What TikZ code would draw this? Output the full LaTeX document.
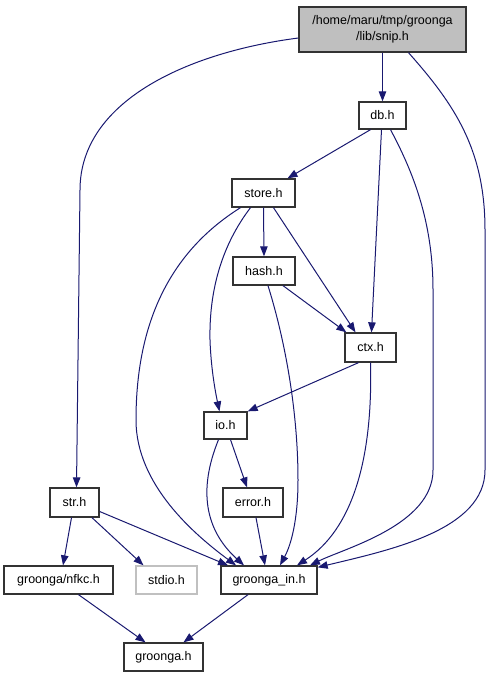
\documentclass[tikz,border=0pt]{standalone}
\usepackage{fontspec}
\setmainfont{Liberation Sans}
\usetikzlibrary{arrows.meta}
\definecolor{edgec}{HTML}{191970}
\definecolor{boxc}{HTML}{333333}
\definecolor{graybox}{HTML}{BFBFBF}
\definecolor{lightb}{HTML}{C0C0C0}
\tikzset{
  fnode/.style={draw=boxc, line width=1.3pt, fill=white, inner sep=0pt, font=\fontsize{12.5}{16}\selectfont, align=center},
  edge/.style={draw=edgec, line width=1pt, -{Triangle[length=10pt,width=7.5pt]}},
}
\begin{document}
\begin{tikzpicture}[x=1pt,y=-1pt]
\useasboundingbox (0,0) rectangle (489,677);
\node[fnode, fill=graybox, minimum width=167pt, minimum height=45pt] (snip) at (382.5,29.5) {/home/maru/tmp/groonga\\/lib/snip.h};
\node[fnode, minimum width=47pt, minimum height=27pt] (db) at (382.5,115.5) {db.h};
\node[fnode, minimum width=63pt, minimum height=28pt] (store) at (263.5,193) {store.h};
\node[fnode, minimum width=62pt, minimum height=28pt] (hash) at (264,271) {hash.h};
\node[fnode, minimum width=51pt, minimum height=29pt] (ctx) at (370.5,347.5) {ctx.h};
\node[fnode, minimum width=43pt, minimum height=27pt] (io) at (225.5,425.5) {io.h};
\node[fnode, minimum width=60pt, minimum height=29pt] (error) at (253,502.5) {error.h};
\node[fnode, minimum width=49pt, minimum height=29pt] (str) at (74.5,502.5) {str.h};
\node[fnode, minimum width=109pt, minimum height=28pt] (nfkc) at (58.5,580) {groonga/nfkc.h};
\node[fnode, draw=lightb, minimum width=61pt, minimum height=28pt] (stdio) at (166.5,580) {stdio.h};
\node[fnode, minimum width=96pt, minimum height=28pt] (gin) at (269,580) {groonga\_in.h};
\node[fnode, minimum width=79pt, minimum height=28pt] (groonga) at (163.5,657) {groonga.h};

% snip
\draw[edge] (snip.south) -- (db.north);
\draw[edge] ([yshift=-8.5]snip.west) .. controls (190,52) and (80,100) .. (80,190) -- ([xshift=2]str.north);
\draw[edge] ([xshift=26]snip.south) .. controls (455,105) and (485,150) .. (485,230) -- (485,470) .. controls (485,530) and (390,550) .. ([yshift=-2]gin.north east);
% db
\draw[edge] ([xshift=-12]db.south) -- ([xshift=24]store.north);
\draw[edge] ([xshift=-1]db.south) -- ([xshift=1]ctx.north);
\draw[edge] ([xshift=8]db.south) .. controls (412,170) and (433,220) .. (433,290) -- (433,470) .. controls (433,525) and (345,548) .. ([xshift=41]gin.north);
% store
\draw[edge] (store.south) -- (hash.north);
\draw[edge] ([xshift=10]store.south) -- ([xshift=-15]ctx.north);
\draw[edge] ([xshift=-13]store.south) .. controls (222,245) and (209,290) .. (210,340) .. controls (211,370) and (216,395) .. ([xshift=-6]io.north);
\draw[edge] ([xshift=-23]store.south) .. controls (165,255) and (136,330) .. (136,420) .. controls (136,485) and (195,535) .. ([xshift=-33]gin.north);
% hash
\draw[edge] ([xshift=19]hash.south) -- ([xshift=2]ctx.north west);
\draw[edge] ([xshift=4]hash.south) .. controls (288,350) and (298,420) .. (298,480) .. controls (298,520) and (291,545) .. ([xshift=11]gin.north);
% ctx
\draw[edge] ([xshift=-12]ctx.south) -- (io.north east);
\draw[edge] (ctx.south) .. controls (373,460) and (352,530) .. ([xshift=28]gin.north);
% io
\draw[edge] ([xshift=5]io.south) -- ([xshift=-6]error.north);
\draw[edge] ([xshift=-7]io.south) .. controls (198,490) and (205,530) .. ([xshift=-25]gin.north);
% error
\draw[edge] ([xshift=3]error.south) -- ([xshift=-4]gin.north);
% str
\draw[edge] ([xshift=-3]str.south) -- ([xshift=4.5]nfkc.north);
\draw[edge] ([xshift=17.5]str.south) -- ([xshift=-23]stdio.north);
\draw[edge] ([yshift=-9]str.east) -- ([xshift=-41]gin.north);
% bottom
\draw[edge] ([xshift=20]nfkc.south) -- ([xshift=-18]groonga.north);
\draw[edge] ([xshift=-21]gin.south) -- ([xshift=20]groonga.north);
\end{tikzpicture}
\end{document}
